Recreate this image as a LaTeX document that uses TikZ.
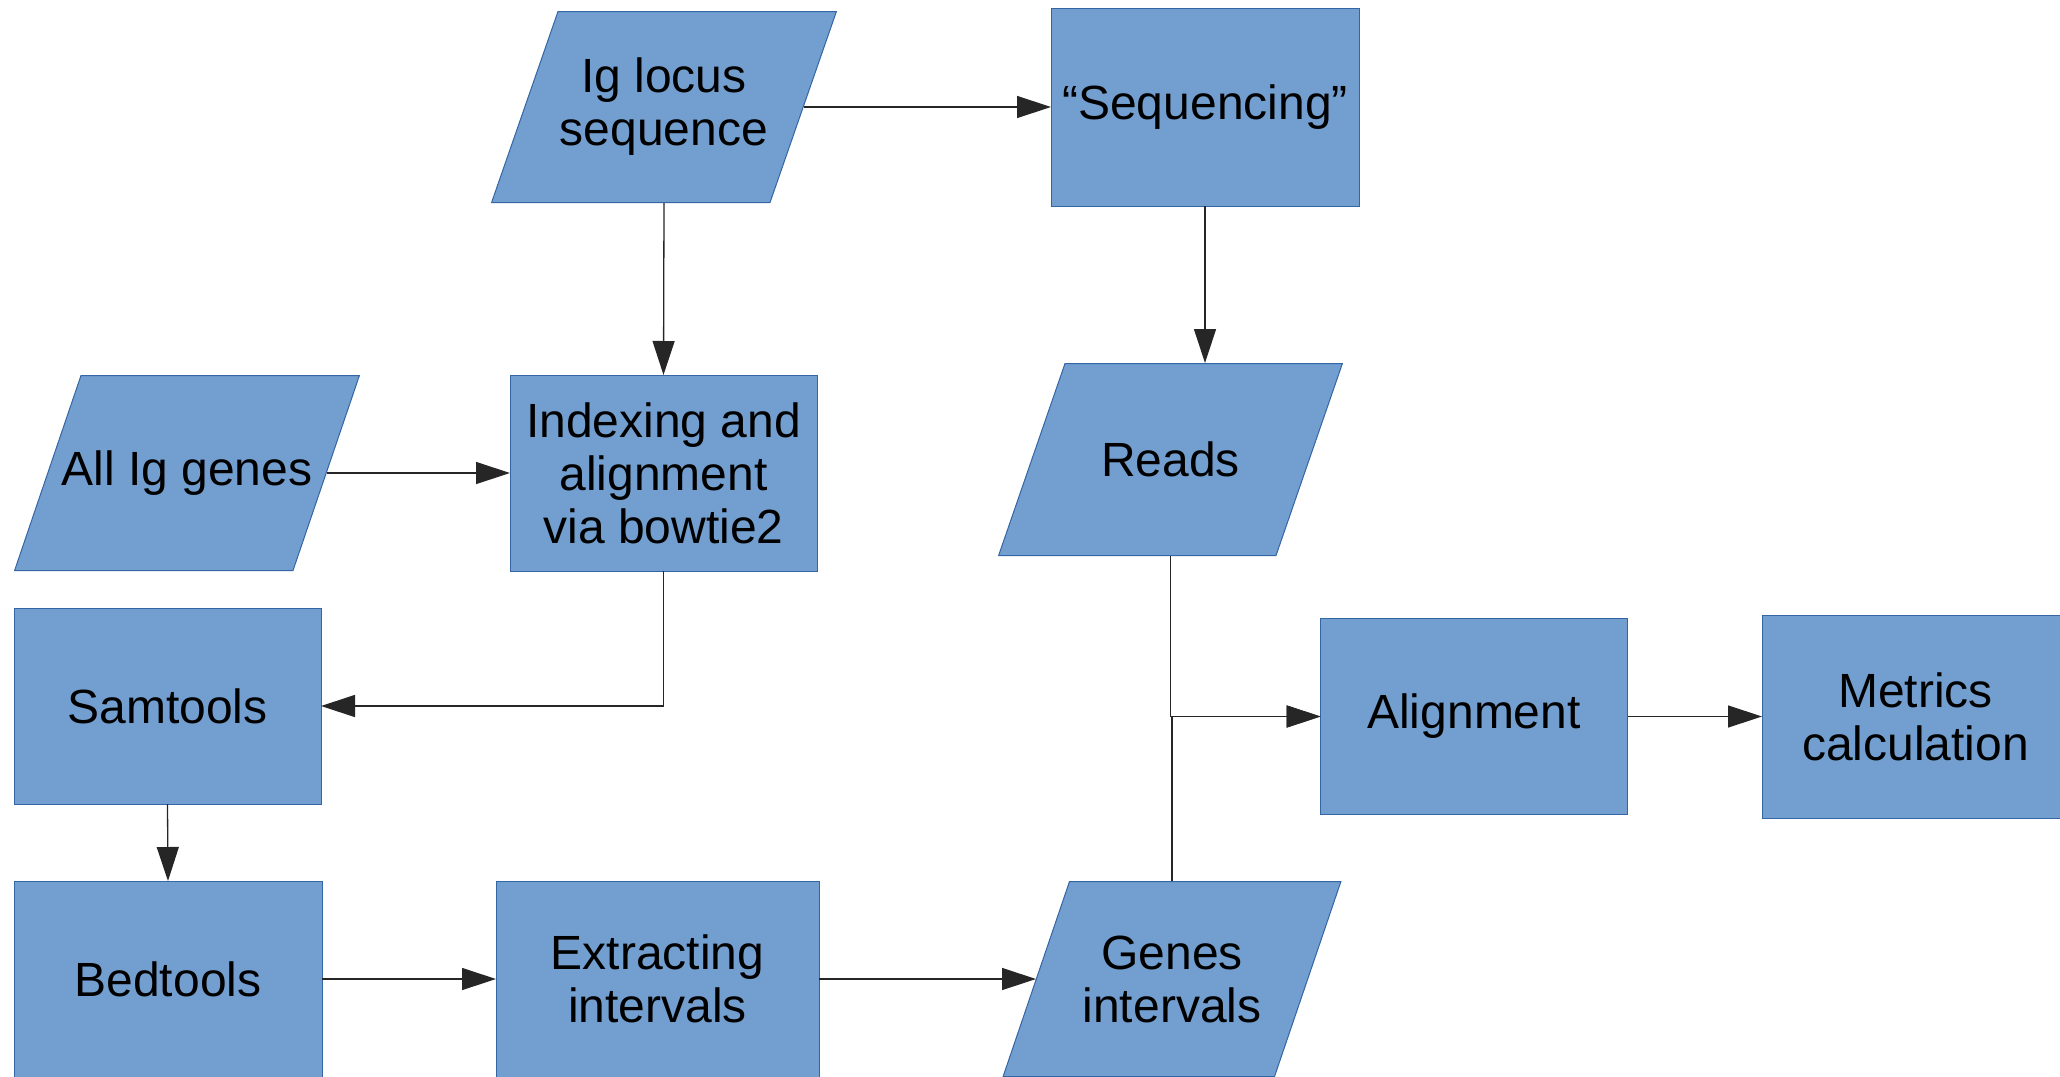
\documentclass[tikz,border=0pt]{standalone}
\usepackage{fontspec}
\setmainfont{Liberation Sans}
\usetikzlibrary{arrows.meta}
\definecolor{fillc}{HTML}{729FCF}
\definecolor{bordc}{HTML}{3465A4}
\newcommand\mylbl{\fontsize{24}{26.5}\selectfont}
\tikzset{
  box/.style={rectangle, draw=bordc, fill=fillc, line width=0.5pt,
    inner sep=0pt, outer sep=0pt, align=center, font=\mylbl,
    minimum width=153.5pt, minimum height=98pt},
  para/.style={rectangle, inner sep=0pt, outer sep=0pt, align=center, font=\mylbl,
    minimum width=173pt, minimum height=97pt,
    path picture={
      \path[fill=fillc, draw=bordc, line width=0.5pt]
        ([xshift=33.5pt,yshift=-0.25pt]path picture bounding box.north west)
        -- ([xshift=-0.3pt,yshift=-0.25pt]path picture bounding box.north east)
        -- ([xshift=-33.5pt,yshift=0.25pt]path picture bounding box.south east)
        -- ([xshift=0.3pt,yshift=0.25pt]path picture bounding box.south west)
        -- cycle;}},
  conn/.style={draw=black!85, line width=0.65pt,
    -{Triangle[length=17pt,width=11pt]}}
}
\begin{document}
\begin{tikzpicture}[x=0.5pt,y=-0.5pt]
\useasboundingbox (0,0) rectangle (2060,1076);
% nodes
\node[para, minimum height=96pt] (igl) at (664,107) {Ig locus\\sequence};
\node[box, minimum width=154pt, minimum height=99pt] (seq) at (1205,107) {“Sequencing”};
\node[para, minimum height=98pt] (allig) at (187,473) {All Ig genes};
\node[box] (idx) at (663.5,473) {Indexing and\\alignment\\via bowtie2};
\node[para, minimum width=172.5pt, minimum height=96.5pt] (reads) at (1170.5,459.5) {Reads};
\node[box] (sam) at (167.5,706) {Samtools};
\node[box] (align) at (1474,716.5) {Alignment};
\node[box, minimum height=101.5pt] (met) at (1915.5,716.5) {Metrics\\calculation};
\node[box, minimum width=154pt] (bed) at (168,979) {Bedtools};
\node[box, minimum width=161.5pt] (ext) at (657.5,979) {Extracting\\intervals};
\node[para, minimum width=169.5pt, minimum height=98pt] (genes) at (1172,979) {Genes\\intervals};
% side mid-points of the parallelograms
\coordinate (igl-e) at ([xshift=-16.75pt]igl.east);
\coordinate (allig-e) at ([xshift=-16.75pt]allig.east);
\coordinate (genes-w) at ([xshift=16.75pt]genes.west);
% connectors
\draw[conn] (igl-e) -- (seq.west);
\draw[conn] (igl.south) -- (idx.north);
\draw[conn] (allig-e) -- (idx.west);
\draw[conn] (idx.south) |- (sam.east);
\draw[conn] (seq.south) -- (seq.south |- reads.north);
\draw[conn] (reads.south) |- (align.west);
\draw[conn] (genes.north) |- (align.west);
\draw[conn] (align.east) -- (met.west);
\draw[conn] (sam.south) -- (bed.north);
\draw[conn] (bed.east) -- (ext.west);
\draw[conn] (ext.east) -- (genes-w);
\end{tikzpicture}
\end{document}
